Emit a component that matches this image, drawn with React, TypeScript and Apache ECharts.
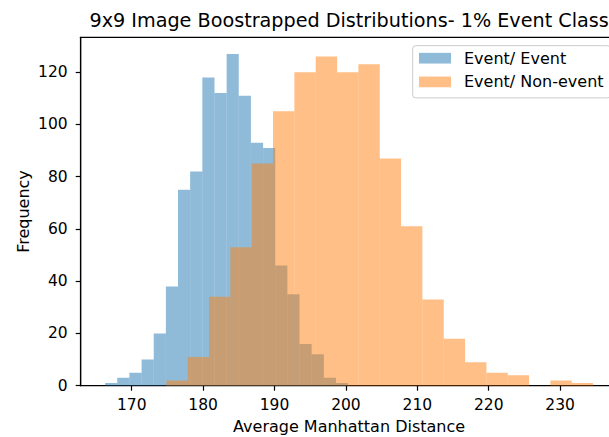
import React, { useEffect, useRef } from "react";
import * as echarts from "echarts";

const titleText = "9x9 Image Boostrapped Distributions- 1% Event Class";
const xLabel = "Average Manhattan Distance";
const yLabel = "Frequency";
const seriesNames = ["Event/ Event", "Event/ Non-event"];

const blueEdges = [166.27, 167.97, 169.67, 171.38, 173.08, 174.78, 176.48, 178.18, 179.89, 181.59, 183.29, 184.99, 186.69, 188.4, 190.1, 191.8, 193.5, 195.2, 196.91, 198.61, 200.31];
const blueCounts = [1, 3, 5, 10, 20, 38, 75, 82, 118, 112, 127, 111, 93, 91, 46, 35, 16, 12, 3, 1];
const orangeEdges = [174.85, 177.84, 180.83, 183.82, 186.8, 189.79, 192.78, 195.77, 198.76, 201.75, 204.74, 207.72, 210.71, 213.7, 216.69, 219.68, 222.67, 225.65, 228.64, 231.63, 234.62];
const orangeCounts = [2, 11, 34, 53, 85, 105, 120, 126, 120, 123, 87, 61, 33, 18, 9, 5, 4, 0, 2, 1];

const xTicks = [170, 180, 190, 200, 210, 220, 230];
const yTicks = [0, 20, 40, 60, 80, 100, 120];

const BLUE = "rgba(31,119,180,0.5)";
const ORANGE = "rgba(255,127,14,0.5)";
const FONT = "DejaVu Sans";

function toBins(edges: number[], counts: number[]) {
  return counts.map((c, i) => [edges[i], edges[i + 1], c]);
}

function makeRender(color: string) {
  return (params: any, api: any) => {
    const p0 = api.coord([api.value(0), 0]);
    const p1 = api.coord([api.value(1), api.value(2)]);
    return {
      type: "rect",
      shape: { x: p0[0], y: p1[1], width: p1[0] - p0[0], height: p0[1] - p1[1] },
      style: { fill: color },
    };
  };
}

export default function App() {
  const ref = useRef<HTMLDivElement>(null);
  useEffect(() => {
    if (!ref.current) return;
    const chart = echarts.init(ref.current, null, { renderer: "svg" });
    const gridLeft = 80.7;
    const gridTop = 37.3;
    const gridW = 536.8;
    const gridH = 348.4;
    chart.setOption({
      animation: false,
      backgroundColor: "#fff",
      textStyle: { fontFamily: FONT },
      grid: {
        left: gridLeft,
        top: gridTop,
        width: gridW,
        height: gridH,
        containLabel: false,
        outerBoundsMode: "none",
        show: true,
        borderColor: "#000",
        borderWidth: 1.2,
        backgroundColor: "transparent",
      },
      graphic: [
        {
          type: "text",
          x: gridLeft + gridW / 2,
          y: 20.5,
          style: {
            text: titleText,
            fontFamily: FONT,
            fontSize: 19.2,
            fill: "#000",
            textAlign: "center",
            textVerticalAlign: "middle",
          },
        },
      ],
      legend: {
        orient: "vertical",
        left: 412.7,
        top: 45.7,
        padding: [4.5, 7, 8, 6.3],
        itemGap: 7.7,
        itemWidth: 32,
        itemHeight: 10.7,
        backgroundColor: "rgba(255,255,255,0.8)",
        borderColor: "#cccccc",
        borderWidth: 1,
        borderRadius: 3,
        textStyle: { fontFamily: FONT, fontSize: 16, color: "#000", padding: [0, 0, 0, 8] },
        data: [
          { name: seriesNames[0], icon: "rect", itemStyle: { color: BLUE } },
          { name: seriesNames[1], icon: "rect", itemStyle: { color: ORANGE } },
        ],
      },
      xAxis: {
        type: "value",
        min: 162.85,
        max: 238.04,
        name: xLabel,
        nameLocation: "middle",
        nameGap: 32.5,
        nameMoveOverlap: false,
        nameTextStyle: { fontFamily: FONT, fontSize: 16, color: "#000" },
        axisLine: { show: true, lineStyle: { color: "#000", width: 1.2 } },
        axisTick: { show: true, length: 5, customValues: xTicks, lineStyle: { color: "#000", width: 1.2 } },
        axisLabel: { customValues: xTicks, margin: 11.5, fontFamily: FONT, fontSize: 15.5, color: "#000" },
        splitLine: { show: false },
      },
      yAxis: {
        type: "value",
        min: 0,
        max: 133.35,
        name: yLabel,
        nameLocation: "middle",
        nameGap: 49,
        nameMoveOverlap: false,
        nameTextStyle: { fontFamily: FONT, fontSize: 16, color: "#000" },
        axisLine: { show: true, lineStyle: { color: "#000", width: 1.2 } },
        axisTick: { show: true, length: 5, customValues: yTicks, lineStyle: { color: "#000", width: 1.2 } },
        axisLabel: { customValues: yTicks, margin: 13, fontFamily: FONT, fontSize: 15.5, color: "#000" },
        splitLine: { show: false },
      },
      series: [
        {
          name: seriesNames[0],
          type: "custom",
          renderItem: makeRender(BLUE),
          itemStyle: { color: BLUE },
          encode: { x: [0, 1], y: 2 },
          data: toBins(blueEdges, blueCounts),
          clip: true,
          z: 2,
        },
        {
          name: seriesNames[1],
          type: "custom",
          renderItem: makeRender(ORANGE),
          itemStyle: { color: ORANGE },
          encode: { x: [0, 1], y: 2 },
          data: toBins(orangeEdges, orangeCounts),
          clip: true,
          z: 3,
        },
      ],
    });
    return () => chart.dispose();
  }, []);
  return (
    <div style={{ width: 609, height: 437, position: "absolute", left: 0, top: 0, overflow: "hidden", background: "#fff" }}>
      <div ref={ref} style={{ width: 622, height: 437 }} />
    </div>
  );
}
